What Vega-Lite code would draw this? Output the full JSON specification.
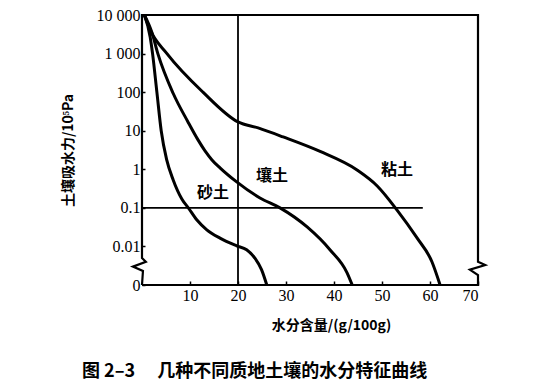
{
  "$schema": "https://vega.github.io/schema/vega-lite/v6.json",
  "width": 336,
  "height": 270,
  "autosize": {"type": "none"},
  "padding": {"left": 142, "top": 15, "right": 82, "bottom": 107},
  "background": "white",
  "config": {
    "view": {"stroke": null},
    "axis": {
      "domain": false,
      "grid": false,
      "tickColor": "black",
      "tickWidth": 1.5,
      "labelColor": "black",
      "labelFont": "Liberation Serif",
      "labelFontSize": 16,
      "titleColor": "black",
      "titleFont": "Noto Sans CJK SC",
      "titleFontSize": 14,
      "titleFontWeight": "bold"
    }
  },
  "title": {
    "text": "图 2–3　  几种不同质地土壤的水分特征曲线",
    "orient": "bottom",
    "anchor": "start",
    "frame": "group",
    "dx": -60,
    "offset": 31,
    "font": "Noto Sans CJK SC",
    "fontSize": 18,
    "fontWeight": "bold",
    "color": "black"
  },
  "datasets": {
    "frame": [
      {"order": 1, "x": 0, "y": 0.001},
      {"order": 2, "x": 0.2, "y": 0.0023},
      {"order": 3, "x": -1.9, "y": 0.003},
      {"order": 4, "x": 0.8, "y": 0.004},
      {"order": 5, "x": 0, "y": 0.005},
      {"order": 6, "x": 0, "y": 10000},
      {"order": 7, "x": 70, "y": 10000},
      {"order": 8, "x": 70, "y": 0.004},
      {"order": 9, "x": 71.5, "y": 0.0033},
      {"order": 10, "x": 68.3, "y": 0.0025},
      {"order": 11, "x": 70, "y": 0.0018},
      {"order": 12, "x": 70, "y": 0.001},
      {"order": 13, "x": 0, "y": 0.001}
    ],
    "refs": [
      {"id": "v", "x": 20, "y": 0.001},
      {"id": "v", "x": 20, "y": 10000},
      {"id": "h", "x": 0, "y": 0.1},
      {"id": "h", "x": 58.5, "y": 0.1}
    ],
    "curves": [
      {"s": "砂土", "x": 0.5, "y": 10000},
      {"s": "砂土", "x": 1.7, "y": 2700},
      {"s": "砂土", "x": 2.2, "y": 1000},
      {"s": "砂土", "x": 3.1, "y": 100},
      {"s": "砂土", "x": 4.0, "y": 10},
      {"s": "砂土", "x": 5.15, "y": 1.75},
      {"s": "砂土", "x": 6.5, "y": 0.53},
      {"s": "砂土", "x": 8.3, "y": 0.17},
      {"s": "砂土", "x": 9.65, "y": 0.1},
      {"s": "砂土", "x": 11.4, "y": 0.049},
      {"s": "砂土", "x": 13.5, "y": 0.027},
      {"s": "砂土", "x": 16.25, "y": 0.0164},
      {"s": "砂土", "x": 19.7, "y": 0.0104},
      {"s": "砂土", "x": 21.8, "y": 0.0082},
      {"s": "砂土", "x": 23.5, "y": 0.005},
      {"s": "砂土", "x": 24.9, "y": 0.0025},
      {"s": "砂土", "x": 26.0, "y": 0.001},
      {"s": "壤土", "x": 0.5, "y": 10000},
      {"s": "壤土", "x": 2.1, "y": 3400},
      {"s": "壤土", "x": 3.3, "y": 1000},
      {"s": "壤土", "x": 6.46, "y": 95},
      {"s": "壤土", "x": 9.58, "y": 16.9},
      {"s": "壤土", "x": 11.67, "y": 5.78},
      {"s": "壤土", "x": 13.13, "y": 3.0},
      {"s": "壤土", "x": 14.58, "y": 1.75},
      {"s": "壤土", "x": 16.25, "y": 1.09},
      {"s": "壤土", "x": 19.73, "y": 0.47},
      {"s": "壤土", "x": 24.58, "y": 0.18},
      {"s": "壤土", "x": 28.75, "y": 0.1},
      {"s": "壤土", "x": 34.4, "y": 0.032},
      {"s": "壤土", "x": 39.2, "y": 0.0081},
      {"s": "壤土", "x": 42.7, "y": 0.0021},
      {"s": "壤土", "x": 43.8, "y": 0.001},
      {"s": "粘土", "x": 0.5, "y": 10000},
      {"s": "粘土", "x": 1.7, "y": 4100},
      {"s": "粘土", "x": 5.2, "y": 1000},
      {"s": "粘土", "x": 12.7, "y": 100},
      {"s": "粘土", "x": 20, "y": 16.9},
      {"s": "粘土", "x": 24.2, "y": 11.8},
      {"s": "粘土", "x": 29.4, "y": 6.9},
      {"s": "粘土", "x": 37.1, "y": 2.9},
      {"s": "粘土", "x": 44.8, "y": 0.96},
      {"s": "粘土", "x": 49.0, "y": 0.37},
      {"s": "粘土", "x": 53.1, "y": 0.089},
      {"s": "粘土", "x": 57.3, "y": 0.0166},
      {"s": "粘土", "x": 60.4, "y": 0.004},
      {"s": "粘土", "x": 62.1, "y": 0.001}
    ],
    "labels": [
      {"text": "砂土", "x": 14.8, "y": 0.24},
      {"text": "壤土", "x": 27.1, "y": 0.68},
      {"text": "粘土", "x": 53.1, "y": 0.96}
    ]
  },
  "layer": [
    {
      "data": {"name": "curves"},
      "mark": {"type": "line", "color": "black", "strokeWidth": 3, "interpolate": "monotone"},
      "encoding": {
        "x": {
          "field": "x", "type": "quantitative",
          "scale": {"domain": [0, 70], "nice": false, "zero": false},
          "axis": {
            "values": [10, 20, 30, 40, 50, 60, 70],
            "format": "d",
            "tickSize": -4,
            "labelPadding": 6,
            "title": "水分含量/(g/100g)",
            "titleX": 189,
            "titleY": 40,
            "titleBaseline": "middle"
          }
        },
        "y": {
          "field": "y", "type": "quantitative",
          "scale": {"type": "log", "domain": [0.001, 10000], "nice": false},
          "axis": {
            "values": [0.001, 0.01, 0.1, 1, 10, 100, 1000, 10000],
            "labelExpr": "datum.value < 0.005 ? '0' : datum.value > 5000 ? '10 000' : datum.value > 500 ? '1 000' : format(datum.value, '~g')",
            "tickSize": -3,
            "labelPadding": 5,
            "title": "土壤吸水力/10⁵Pa",
            "titleX": -74,
            "titleY": 135,
            "titleBaseline": "middle"
          }
        },
        "detail": {"field": "s"}
      }
    },
    {
      "data": {"name": "frame"},
      "mark": {"type": "line", "color": "black", "strokeWidth": 2.2},
      "encoding": {
        "x": {"field": "x", "type": "quantitative"},
        "y": {"field": "y", "type": "quantitative"},
        "order": {"field": "order"}
      }
    },
    {
      "data": {"name": "refs"},
      "mark": {"type": "line", "color": "black", "strokeWidth": 1.8},
      "encoding": {
        "x": {"field": "x", "type": "quantitative"},
        "y": {"field": "y", "type": "quantitative"},
        "detail": {"field": "id"}
      }
    },
    {
      "data": {"name": "labels"},
      "mark": {"type": "text", "font": "Noto Sans CJK SC", "fontSize": 16, "fontWeight": "bold", "color": "black"},
      "encoding": {
        "x": {"field": "x", "type": "quantitative"},
        "y": {"field": "y", "type": "quantitative"},
        "text": {"field": "text"}
      }
    }
  ]
}
